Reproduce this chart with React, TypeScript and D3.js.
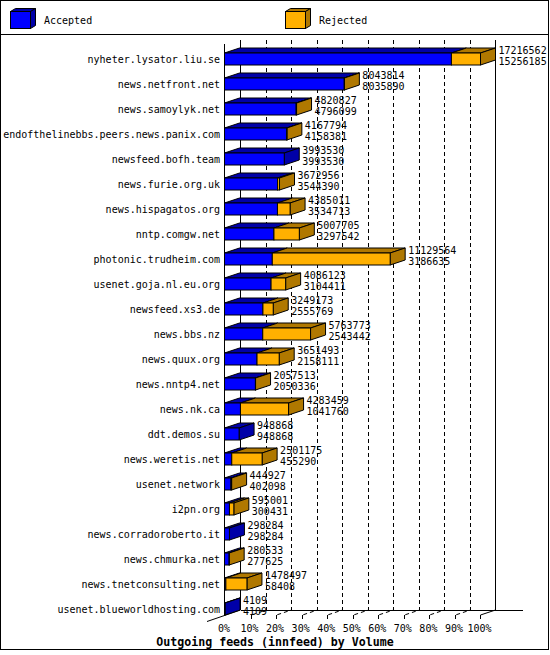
import React from "react";
import * as d3 from "d3";

const hosts = [
  "nyheter.lysator.liu.se",
  "news.netfront.net",
  "news.samoylyk.net",
  "endofthelinebbs.peers.news.panix.com",
  "newsfeed.bofh.team",
  "news.furie.org.uk",
  "news.hispagatos.org",
  "nntp.comgw.net",
  "photonic.trudheim.com",
  "usenet.goja.nl.eu.org",
  "newsfeed.xs3.de",
  "news.bbs.nz",
  "news.quux.org",
  "news.nntp4.net",
  "news.nk.ca",
  "ddt.demos.su",
  "news.weretis.net",
  "usenet.network",
  "i2pn.org",
  "news.corradoroberto.it",
  "news.chmurka.net",
  "news.tnetconsulting.net",
  "usenet.blueworldhosting.com",
];

const offered = [
  17216562, 8043814, 4820827, 4167794, 3993530, 3672956, 4385011, 5007705,
  11129564, 4086123, 3249173, 5763773, 3651493, 2057513, 4283459, 948868,
  2501175, 444927, 595001, 298284, 280533, 1478497, 4109,
];

const accepted = [
  15256185, 8035890, 4796099, 4158381, 3993530, 3544390, 3534713, 3297542,
  3186635, 3104411, 2555769, 2543442, 2158111, 2050336, 1041760, 948868,
  455290, 402098, 300431, 298284, 277625, 58408, 4109,
];

const pctTicks = [0, 10, 20, 30, 40, 50, 60, 70, 80, 90, 100];
const seriesNames = ["Accepted", "Rejected"];

const BLUE = "#0000FF";
const BLUE_D = "#0000A8";
const ORANGE = "#FFB000";
const ORANGE_D = "#B07800";
const FONT = "'DejaVu Sans Mono', monospace";

const DX = 15;
const DY = 5;

export default function App() {
  const maxV = d3.max(offered) as number;
  const x = d3.scaleLinear().domain([0, maxV]).range([225, 480.5]);
  const px = d3.scaleLinear().domain([0, 100]).range([225, 480.5]);
  const y = d3.scalePoint<string>().domain(hosts).range([59, 609]);

  const topY = 40;
  const floorBack = 610;
  const floorFront = 615;

  const face = (pts: [number, number][]) =>
    pts.map((p) => p.join(",")).join(" ");

  return (
    <svg
      width={550}
      height={655}
      style={{ position: "absolute", left: 0, top: 0, background: "#fff" }}
      fontFamily={FONT}
    >
      <rect x={0.5} y={0.5} width={548} height={649} fill="#fff" stroke="#000" shapeRendering="crispEdges" />
      <line x1={0} x2={549} y1={34.5} y2={34.5} stroke="#000" shapeRendering="crispEdges" />

      {/* legend */}
      {seriesNames.map((name, i) => {
        const lx = i === 0 ? 10.5 : 285.5;
        const ly = 11.5;
        const w = 20;
        const h = 17;
        const c = i === 0 ? BLUE : ORANGE;
        const cd = i === 0 ? BLUE_D : ORANGE_D;
        return (
          <g key={name}>
            <polygon
              points={face([[lx, ly], [lx + 5, ly - 3], [lx + w + 5, ly - 3], [lx + w, ly]])}
              fill={cd}
              stroke="#000"
            />
            <polygon
              points={face([[lx + w, ly], [lx + w + 5, ly - 3], [lx + w + 5, ly + h - 3], [lx + w, ly + h]])}
              fill={cd}
              stroke="#000"
            />
            <rect x={lx} y={ly} width={w} height={h} fill={c} stroke="#000" />
            <text x={lx + 33.5} y={24} fontSize={10} fill="#000">
              {name}
            </text>
          </g>
        );
      })}

      {/* grid lines */}
      {pctTicks.slice(1, -1).map((p) => {
        const xf = Math.round(px(p)) + 0.5;
        const xb = xf + DX;
        return (
          <g key={p}>
            <path
              d={`M${xb},${topY} L${xb},${floorBack} L${xf},${floorFront}`}
              fill="none"
              stroke="#000"
              strokeDasharray="4,3"
            />
            <line x1={xf} x2={xf} y1={floorFront} y2={floorFront + 4} stroke="#000" shapeRendering="crispEdges" />
          </g>
        );
      })}

      {/* axes / frame */}
      <g stroke="#000" fill="none">
        <line x1={240.5} x2={240.5} y1={topY} y2={floorBack} shapeRendering="crispEdges" />
        <line x1={224.5} x2={224.5} y1={44} y2={floorFront} shapeRendering="crispEdges" />
        <line x1={495.5} x2={495.5} y1={topY} y2={floorBack} shapeRendering="crispEdges" />
        <line x1={240.5} x2={523} y1={floorBack + 0.5} y2={floorBack + 0.5} shapeRendering="crispEdges" />
        <line x1={240.5} y1={floorBack} x2={207} y2={621.5} />
        <line x1={495.5} y1={floorBack} x2={480.5} y2={floorFront} />
        <line x1={480.5} x2={480.5} y1={floorFront} y2={floorFront + 4} shapeRendering="crispEdges" />
      </g>

      {/* bars */}
      {hosts.map((h, i) => {
        const cy = y(h) as number;
        const yT = cy - 6;
        const yB = cy + 6;
        const x0 = x(0) - 0.5;
        const xa = x(accepted[i]);
        const xt = x(offered[i]);
        const hasRej = offered[i] > accepted[i];
        const sideColor = hasRej ? ORANGE_D : BLUE_D;
        return (
          <g key={h} stroke="#000" strokeWidth={1}>
            <polygon
              points={face([[x0, yT], [x0 + DX, yT - DY], [xa + DX, yT - DY], [xa, yT]])}
              fill={BLUE_D}
            />
            {hasRej && (
              <polygon
                points={face([[xa, yT], [xa + DX, yT - DY], [xt + DX, yT - DY], [xt, yT]])}
                fill={ORANGE_D}
              />
            )}
            <polygon
              points={face([[xt, yT], [xt + DX, yT - DY], [xt + DX, yB - DY], [xt, yB]])}
              fill={sideColor}
            />
            <rect x={x0} y={yT} width={Math.max(0, xa - x0)} height={yB - yT} fill={BLUE} />
            {hasRej && (
              <rect x={xa} y={yT} width={Math.max(0, xt - xa)} height={yB - yT} fill={ORANGE} />
            )}
          </g>
        );
      })}

      {/* host labels */}
      {hosts.map((h) => (
        <text key={h} x={220} y={(y(h) as number) + 4} fontSize={10} textAnchor="end" fill="#000">
          {h}
        </text>
      ))}

      {/* value labels */}
      {hosts.map((h, i) => {
        const cy = y(h) as number;
        const tx = x(offered[i]) + DX + 3;
        return (
          <g key={h} fontSize={10} fill="#000">
            <text x={tx} y={cy - 9 + 4}>{offered[i]}</text>
            <text x={tx} y={cy + 2 + 4}>{accepted[i]}</text>
          </g>
        );
      })}

      {/* x tick labels */}
      {pctTicks.map((p) => (
        <text key={p} x={px(p) - 1} y={632} fontSize={10} textAnchor="middle" fill="#000">
          {p + "%"}
        </text>
      ))}

      <text x={275} y={645.5} fontSize={11.6} fontWeight="bold" textAnchor="middle" fill="#000">
        Outgoing feeds (innfeed) by Volume
      </text>
    </svg>
  );
}
